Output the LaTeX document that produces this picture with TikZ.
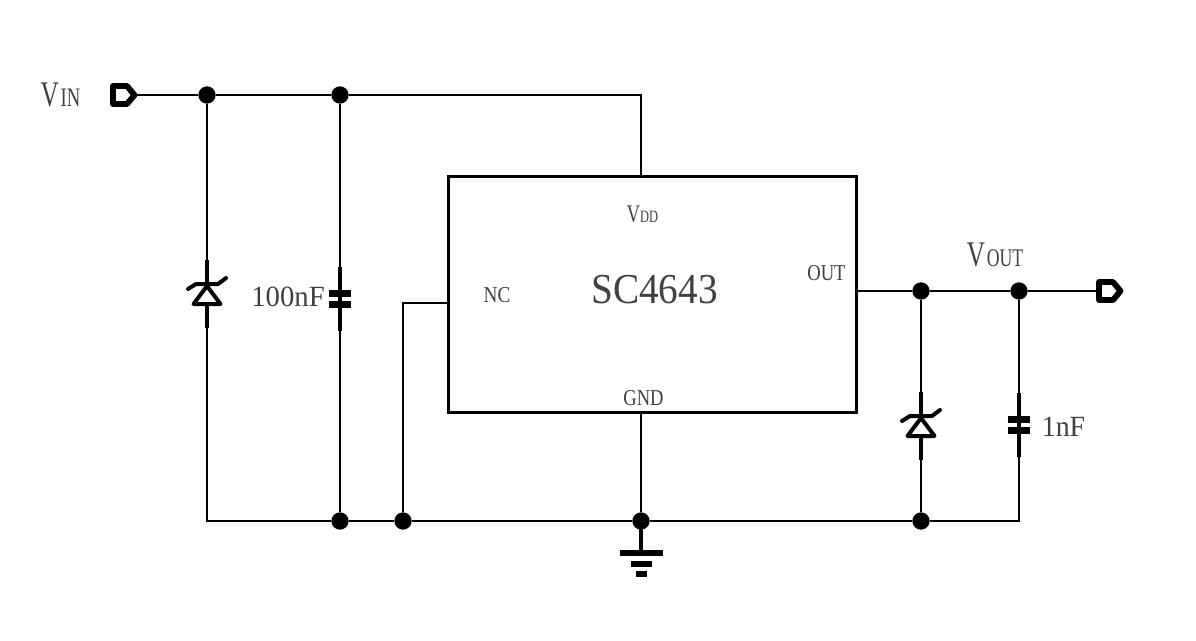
\documentclass[tikz,border=0pt]{standalone}
\usepackage{fontspec}
\setmainfont{Liberation Serif}
\usetikzlibrary{positioning}

\definecolor{labelgray}{gray}{0.25}
\newcommand{\smalltxt}[2]{{\fontsize{#1}{#1}\selectfont #2}}

\tikzset{
    wire/.style={line width=1.7pt, black},
    dot/.style={circle, fill=black, inner sep=0pt, minimum size=13pt},
    chipbox/.style={draw, line width=2.25pt, inner sep=0pt, outer sep=0pt, minimum width=306pt, minimum height=177pt},
    lbl/.style={text=labelgray, inner sep=0pt, transform shape},
    zener/.pic={
        \coordinate (-top) at (0,-35);
        \coordinate (-bot) at (0,33);
        \draw[line width=3.4pt] (0,-35) -- (0,-11);
        \draw[line width=3.4pt] (0,9) -- (0,33);
        \draw[line width=3pt, line join=round] (0,-9) -- (-13.5,9) -- (13.5,9) -- cycle;
        \draw[line width=3pt, line cap=round, line join=round] (-19,-6) -- (-11,-11) -- (11,-11) -- (19,-17);
    },
    capacitor/.pic={
        \coordinate (-top) at (0,-32);
        \coordinate (-bot) at (0,32);
        \draw[line width=3.4pt] (0,-32) -- (0,32);
        \fill (-11,-9) rectangle (11,-2);
        \fill (-11,2) rectangle (11,9);
    },
    gnd/.pic={
        \coordinate (-top) at (0,0);
        \draw[line width=3.4pt] (0,0) -- (0,30);
        \fill (-21.5,29) rectangle (21.5,35);
        \fill (-10.5,40) rectangle (10.5,46);
        \fill (-5.5,50) rectangle (5.5,56);
    },
    portin/.pic={
        \coordinate (-tip) at (25,0);
        \coordinate (-tail) at (1,0);
        \draw[line width=4.4pt, line join=round] (3,-9) -- (17,-9) -- (24.5,0) -- (17,9) -- (3,9) -- cycle;
    }
}

\begin{document}
\begin{tikzpicture}[x=0.75pt, y=-0.75pt]
\useasboundingbox (0,0) rectangle (1196,640);

% Chip
\node[chipbox] (chip) at (652,294) {};
\node[lbl, font=\fontsize{32}{32}\selectfont, xscale=0.92] (chipname) at (654.5,290) {SC4643};
\node[lbl, font=\fontsize{17}{17}\selectfont, xscale=0.85] (nc) at (497,295.5) {NC};
\node[lbl, font=\fontsize{17}{17}\selectfont, xscale=0.82] (out) at (826.5,273) {OUT};
\node[lbl, font=\fontsize{17}{17}\selectfont, xscale=0.82] (gndlbl) at (643.5,398.5) {GND};
\node[lbl, font=\fontsize{19}{19}\selectfont, xscale=0.72] (vdd) at (642.5,214) {V\smalltxt{13}{DD}};

% Ports
\pic (pin) at (110,95) {portin};
\pic (pout) at (1096,291) {portin};
\node[lbl, font=\fontsize{27}{27}\selectfont, xscale=0.7] (vinlbl) at (60.5,95) {V\kern2pt\smalltxt{20}{IN}};
\node[lbl, font=\fontsize{27}{27}\selectfont, xscale=0.7] (voutlbl) at (995,255) {V\kern2pt\smalltxt{19}{OUT}};

% Parts
\pic (zin) at (207,295) {zener};
\pic (zout) at (921,427) {zener};
\pic (cin) at (340,298.5) {capacitor};
\pic (cout) at (1019,425) {capacitor};
\pic (gnd) at (641,521) {gnd};
\node[lbl, font=\fontsize{22}{22}\selectfont, xscale=0.98] (cinlbl) at (288,297) {100nF};
\node[lbl, font=\fontsize{22}{22}\selectfont, xscale=0.95] (coutlbl) at (1063.5,427) {1nF};

% Junctions
\node[dot] (j1) at (207,95) {};
\node[dot] (j2) at (340,95) {};
\node[dot] (j3) at (921,291) {};
\node[dot] (j4) at (1019,291) {};
\node[dot] (j5) at (340,521) {};
\node[dot] (j6) at (403,521) {};
\node[dot] (j7) at (641,521) {};
\node[dot] (j8) at (921,521) {};
\coordinate (vddpin) at (641,176);
\coordinate (ncpin) at (448,303);
\coordinate (outpin) at (856,291);

% Wires
\draw[wire] (pin-tip) -- (j1);
\draw[wire] (j1) -- (j2);
\draw[wire] (j2) -| (vddpin);
\draw[wire] (j1) -- (zin-top);
\draw[wire] (j2) -- (cin-top);
\draw[wire] (zin-bot) |- (j5);
\draw[wire] (cin-bot) -- (j5);
\draw[wire] (j5) -- (j6);
\draw[wire] (ncpin) -| (j6);
\draw[wire] (j6) -- (j7);
\draw[wire] (j7) -- (j8);
\draw[wire] (chip.south -| j7) -- (j7);
\draw[wire] (outpin) -- (j3);
\draw[wire] (j3) -- (j4);
\draw[wire] (j4) -- (pout-tail);
\draw[wire] (j3) -- (zout-top);
\draw[wire] (zout-bot) -- (j8);
\draw[wire] (j4) -- (cout-top);
\draw[wire] (j8) -| (cout-bot);
\end{tikzpicture}
\end{document}
